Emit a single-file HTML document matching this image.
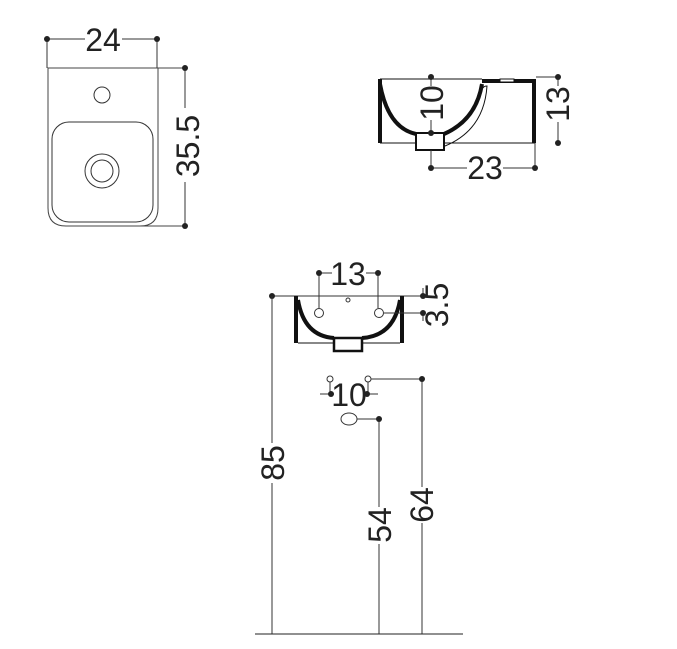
<!DOCTYPE html>
<html><head><style>html,body{margin:0;padding:0;background:#fff;}svg{display:block}</style></head>
<body>
<svg width="677" height="649" viewBox="0 0 677 649" xmlns="http://www.w3.org/2000/svg" font-family="Liberation Sans, sans-serif" fill="none" stroke="#333" stroke-width="1">
<!-- TOP VIEW -->
<path d="M48 68 H158 V208 Q158 226 140 226 H66 Q48 226 48 208 Z" stroke="#444"/>
<line x1="158" y1="68" x2="185" y2="68" stroke="#444"/>
<line x1="100" y1="226" x2="185" y2="226" stroke="#444"/>
<circle cx="102" cy="95" r="8"/>
<rect x="52" y="122" width="101" height="100" rx="17"/>
<circle cx="102" cy="171" r="17"/>
<circle cx="102" cy="171" r="11"/>
<line x1="47" y1="39" x2="47" y2="68"/><line x1="157" y1="39" x2="157" y2="68"/>
<line x1="47" y1="39" x2="85" y2="39"/><line x1="122" y1="39" x2="157" y2="39"/>
<line x1="185" y1="68" x2="185" y2="108"/><line x1="185" y1="182" x2="185" y2="226"/>
<g fill="#222" stroke="none">
<circle cx="47" cy="39" r="3"/><circle cx="157" cy="39" r="3"/>
<circle cx="185" cy="68" r="3"/><circle cx="185" cy="226" r="3"/>
</g>
<g fill="#222" stroke="none" font-size="32">
<text x="103" y="51" text-anchor="middle">24</text>
<text transform="translate(199,146) rotate(-90)" text-anchor="middle">35.5</text>
</g>

<!-- SIDE VIEW -->
<g stroke="#111">
<rect x="378" y="79" width="4" height="64" fill="#111" stroke="none"/>
<rect x="532" y="79" width="4" height="64" fill="#111" stroke="none"/>
<rect x="482" y="79" width="52" height="4" fill="#111" stroke="none"/>
<rect x="500" y="79" width="14" height="3" fill="#fff" stroke="#111"/>
<line x1="380" y1="79" x2="482" y2="79"/>
<line x1="380" y1="143" x2="535" y2="143"/>
<path d="M380 84 Q388 128 416 134" stroke-width="4"/>
<path d="M444 134 Q476 120 482 84" stroke-width="4"/>
<path d="M483 88 Q484 86 487 86 Q484 130 445 146" stroke-width="1"/>
<rect x="416" y="133" width="28" height="17" fill="#fff" stroke-width="2"/>
</g>
<line x1="431" y1="77" x2="431" y2="86"/><line x1="431" y1="120" x2="431" y2="133"/>
<line x1="431" y1="150" x2="431" y2="168"/><line x1="535" y1="143" x2="535" y2="168"/>
<line x1="431" y1="168" x2="467" y2="168"/><line x1="503" y1="168" x2="535" y2="168"/>
<line x1="536" y1="77" x2="558" y2="77"/>
<line x1="558" y1="77" x2="558" y2="86"/><line x1="558" y1="122" x2="558" y2="143"/>
<g fill="#222" stroke="none">
<circle cx="431" cy="77" r="3"/><circle cx="431" cy="133" r="3"/>
<circle cx="431" cy="168" r="3"/><circle cx="535" cy="168" r="3"/>
<circle cx="558" cy="77" r="3"/><circle cx="558" cy="143" r="3"/>
</g>
<g fill="#222" stroke="none" font-size="32">
<text transform="translate(443,103) rotate(-90)" text-anchor="middle">10</text>
<text transform="translate(569,104) rotate(-90)" text-anchor="middle">13</text>
<text x="485" y="179" text-anchor="middle">23</text>
</g>

<!-- FRONT VIEW -->
<line x1="272" y1="296" x2="423" y2="296"/>
<g stroke="#111">
<rect x="294" y="296" width="4" height="47" fill="#111" stroke="none"/>
<rect x="400" y="296" width="4" height="47" fill="#111" stroke="none"/>
<line x1="298" y1="343" x2="333" y2="343"/><line x1="363" y1="343" x2="400" y2="343"/>
<path d="M298 300 Q304 336 334 338" stroke-width="4"/>
<path d="M362 338 Q394 336 400 300" stroke-width="4"/>
<rect x="334" y="338" width="28" height="13" fill="#fff" stroke-width="2.5"/>
</g>
<circle cx="319" cy="313" r="4.5"/><circle cx="379" cy="313" r="4.5"/><circle cx="348" cy="300" r="2"/>
<line x1="319" y1="273" x2="319" y2="308"/><line x1="378" y1="273" x2="378" y2="308"/>
<line x1="319" y1="273" x2="332" y2="273"/><line x1="366" y1="273" x2="378" y2="273"/>
<line x1="384" y1="313" x2="423" y2="313"/>
<line x1="423" y1="288" x2="423" y2="296"/><line x1="423" y1="313" x2="423" y2="321"/>
<g fill="#222" stroke="none">
<circle cx="319" cy="273" r="3"/><circle cx="378" cy="273" r="3"/>
<circle cx="272" cy="296" r="3"/><circle cx="423" cy="296" r="3"/><circle cx="423" cy="313" r="3"/>
</g>
<g fill="#222" stroke="none" font-size="32">
<text x="348" y="285" text-anchor="middle">13</text>
<text transform="translate(448,305) rotate(-90)" text-anchor="middle">3.5</text>
</g>

<!-- LOWER -->
<circle cx="330" cy="379" r="3"/><circle cx="368" cy="379" r="3"/>
<line x1="330" y1="382" x2="330" y2="394"/><line x1="368" y1="382" x2="368" y2="394"/>
<line x1="320" y1="394" x2="334" y2="394"/><line x1="364" y1="394" x2="378" y2="394"/>
<line x1="371" y1="379" x2="422" y2="379"/>
<ellipse cx="349" cy="419" rx="8" ry="6"/>
<line x1="357" y1="419" x2="379" y2="419"/>
<line x1="272" y1="296" x2="272" y2="443"/><line x1="272" y1="483" x2="272" y2="634"/>
<line x1="379" y1="419" x2="379" y2="507"/><line x1="379" y1="544" x2="379" y2="634"/>
<line x1="422" y1="379" x2="422" y2="487"/><line x1="422" y1="523" x2="422" y2="634"/>
<line x1="255" y1="634" x2="463" y2="634" stroke="#222"/>
<g fill="#222" stroke="none">
<circle cx="331" cy="394" r="3"/><circle cx="367" cy="394" r="3"/>
<circle cx="422" cy="379" r="3"/><circle cx="379" cy="419" r="3"/>
</g>
<g fill="#222" stroke="none" font-size="32">
<text x="349" y="406" text-anchor="middle">10</text>
<text transform="translate(284,463) rotate(-90)" text-anchor="middle">85</text>
<text transform="translate(391,525) rotate(-90)" text-anchor="middle">54</text>
<text transform="translate(433,505) rotate(-90)" text-anchor="middle">64</text>
</g>
</svg>
</body></html>
